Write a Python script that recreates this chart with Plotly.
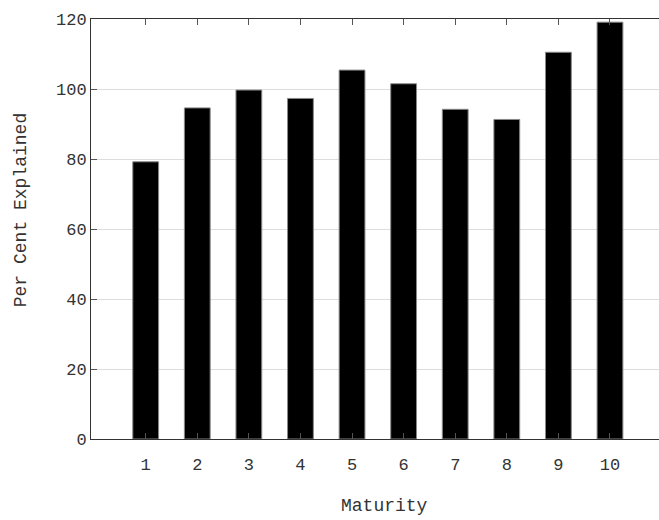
import plotly.graph_objects as go

maturity = [1, 2, 3, 4, 5, 6, 7, 8, 9, 10]
per_cent_explained = [79.2, 94.6, 99.7, 97.3, 105.4, 101.5, 94.2, 91.3, 110.5, 119.1]
y_ticks = [0, 20, 40, 60, 80, 100, 120]

FONT = "Liberation Mono, Courier New, monospace"

fig = go.Figure(
    go.Bar(
        x=maturity,
        y=per_cent_explained,
        width=0.5,
        marker=dict(color="black", line=dict(color="#888888", width=1)),
    )
)

fig.update_layout(
    width=659,
    height=520,
    margin=dict(l=91, r=0, t=19, b=81),
    plot_bgcolor="white",
    paper_bgcolor="white",
    showlegend=False,
    font=dict(family=FONT, size=17, color="#333333"),
    annotations=[
        dict(text="Maturity", xref="paper", yref="paper", x=0.5176, y=-0.16,
             xanchor="center", yanchor="middle", showarrow=False,
             font=dict(family=FONT, size=18, color="#333333")),
        dict(text="Per Cent Explained", xref="paper", yref="paper", x=-0.123, y=0.545,
             xanchor="center", yanchor="middle", textangle=-90, showarrow=False,
             font=dict(family=FONT, size=18, color="#333333")),
    ],
    yaxis2=dict(
        overlaying="y",
        side="right",
        range=[0, 120],
        tickvals=y_ticks,
        ticks="inside",
        ticklen=6,
        tickcolor="#555555",
        showline=False,
        showgrid=False,
        zeroline=False,
        showticklabels=False,
    ),
)

fig.update_xaxes(
    range=[-0.06, 10.95],
    tickvals=maturity,
    ticktext=[str(m) for m in maturity],
    ticks="inside",
    ticklen=6,
    tickcolor="#555555",
    showline=True,
    linecolor="#333333",
    linewidth=1,
    mirror="ticks",
    showgrid=False,
    zeroline=False,
    ticklabelstandoff=10,
)

fig.update_yaxes(
    selector=dict(overlaying=None),
    range=[0, 120],
    tickvals=y_ticks,
    ticks="inside",
    ticklen=6,
    tickcolor="#555555",
    showline=True,
    linecolor="#333333",
    linewidth=1,
    mirror=False,
    showgrid=True,
    gridcolor="#dddddd",
    gridwidth=1,
    zeroline=False,
)

fig.write_html("out.html")
